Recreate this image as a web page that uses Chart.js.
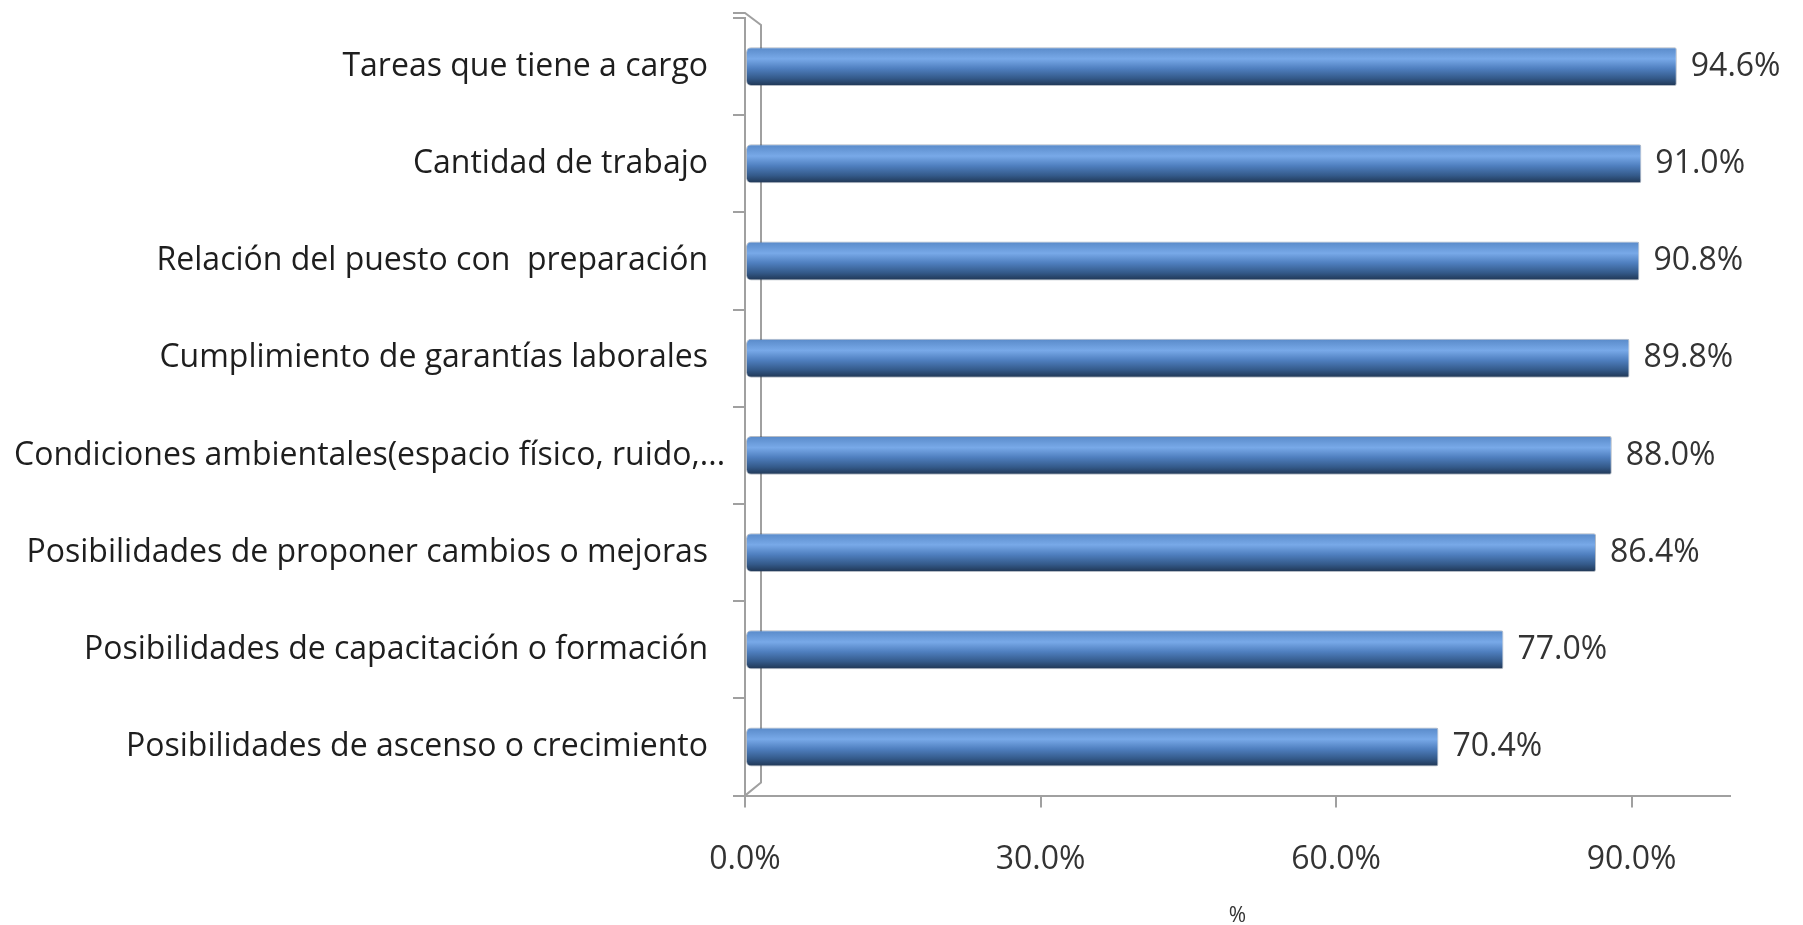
<!DOCTYPE html>
<html>
<head>
<meta charset="utf-8">
<script src="https://cdn.jsdelivr.net/npm/chart.js@4.4.1/dist/chart.umd.min.js"></script>
<style>
  html, body { margin: 0; padding: 0; background: #fff; }
  #wrap { width: 1803px; height: 925px; }
</style>
</head>
<body>
<div id="wrap"><canvas id="chart" width="1803" height="925"></canvas></div>
<script>
// Data, top bar first.
const categories = [
  'Tareas que tiene a cargo',
  'Cantidad de trabajo',
  'Relación del puesto con  preparación',
  'Cumplimiento de garantías laborales',
  'Condiciones ambientales(espacio físico, ruido,...',
  'Posibilidades de proponer cambios o mejoras',
  'Posibilidades de capacitación o formación',
  'Posibilidades de ascenso o crecimiento',
];
const values = [94.6, 91.0, 90.8, 89.8, 88.0, 86.4, 77.0, 70.4];
const xTicks = [0, 30, 60, 90];

const FONT = '"Open Sans", "Noto Sans", sans-serif';
const BAR_PCT = 0.4;
const GRAY = '#a0a0a0';

// Cylinder-ish shading: vertical gradient per bar, built from the y scale.
function barGradient(ctx) {
  const chart = ctx.chart;
  const y = chart.scales.y;
  if (!y || ctx.dataIndex === undefined) return '#4f81bd';
  const c = y.getPixelForValue(ctx.dataIndex);
  const h = (y.height / categories.length) * BAR_PCT;
  if (!isFinite(c) || !isFinite(h) || h <= 0) return '#4f81bd';
  const g = chart.ctx.createLinearGradient(0, c - h / 2, 0, c + h / 2);
  g.addColorStop(0, '#5889c8');
  g.addColorStop(0.3, '#78a9e8');
  g.addColorStop(0.55, '#4f7fbf');
  g.addColorStop(0.8, '#345a8a');
  g.addColorStop(1, '#1f3552');
  return g;
}

// Category labels, right aligned but never pushed past the left edge.
const catLabels = {
  id: 'catLabels',
  afterDraw(chart) {
    const { ctx } = chart;
    const y = chart.scales.y;
    ctx.save();
    ctx.font = '32px ' + FONT;
    ctx.fillStyle = '#1e1e1e';
    ctx.textAlign = 'right';
    ctx.textBaseline = 'middle';
    categories.forEach((label, i) => {
      const w = ctx.measureText(label).width;
      const right = Math.max(708, 14 + w);
      ctx.fillText(label, right, y.getPixelForTick(i));
    });
    ctx.restore();
  }
};

// Value labels at the bar ends.
const valueLabels = {
  id: 'valueLabels',
  afterDatasetsDraw(chart) {
    const { ctx } = chart;
    const meta = chart.getDatasetMeta(0);
    ctx.save();
    ctx.font = '32px ' + FONT;
    ctx.fillStyle = '#333';
    ctx.textAlign = 'left';
    ctx.textBaseline = 'middle';
    meta.data.forEach((bar, i) => {
      ctx.fillText(values[i].toFixed(1) + '%', bar.x + 14, bar.y);
    });
    ctx.restore();
  }
};

// Side wall of the 3D plot.
const wall = {
  id: 'wall',
  beforeDatasetsDraw(chart) {
    const { ctx, chartArea: a } = chart;
    const d = 16;
    ctx.save();
    ctx.strokeStyle = GRAY;
    ctx.lineWidth = 2;
    ctx.beginPath();
    ctx.moveTo(a.left - 12, a.top - 5);
    ctx.lineTo(a.left, a.top - 5);
    ctx.lineTo(a.left + d, a.top + 7);
    ctx.lineTo(a.left + d, a.bottom - 13);
    ctx.lineTo(a.left, a.bottom);
    ctx.stroke();
    ctx.restore();
  }
};

new Chart(document.getElementById('chart'), {
  type: 'bar',
  data: {
    labels: categories,
    datasets: [{
      data: values,
      backgroundColor: barGradient,
      borderColor: 'rgba(40,60,90,0.35)',
      borderWidth: 1,
      borderSkipped: false,
      borderRadius: { topLeft: 5, bottomLeft: 5, topRight: 2, bottomRight: 2 },
      barPercentage: BAR_PCT,
      categoryPercentage: 1,
    }],
  },
  options: {
    indexAxis: 'y',
    responsive: false,
    animation: false,
    layout: { padding: { left: 733, right: 73, top: 18, bottom: 0 } },
    scales: {
      x: {
        min: 0,
        max: 100,
        afterBuildTicks: s => { s.ticks = xTicks.map(v => ({ value: v })); },
        ticks: {
          callback: v => Number(v).toFixed(1) + '%',
          font: { family: FONT, size: 32 },
          color: '#333',
          padding: 33,
          maxRotation: 0,
        },
        grid: { drawOnChartArea: false, tickLength: 12, color: GRAY, lineWidth: 2 },
        border: { color: GRAY, width: 2 },
        title: {
          display: true,
          text: '%',
          font: { family: FONT, size: 21, lineHeight: 1 },
          color: '#333',
          padding: { top: -6, bottom: -2 },
        },
      },
      y: {
        offset: true,
        ticks: { display: false },
        grid: { drawOnChartArea: false, offset: true, tickLength: 12, color: GRAY, lineWidth: 2 },
        border: { color: GRAY, width: 2 },
      },
    },
    plugins: {
      legend: { display: false },
      tooltip: { enabled: false },
    },
  },
  plugins: [wall, valueLabels, catLabels],
});
</script>
</body>
</html>
